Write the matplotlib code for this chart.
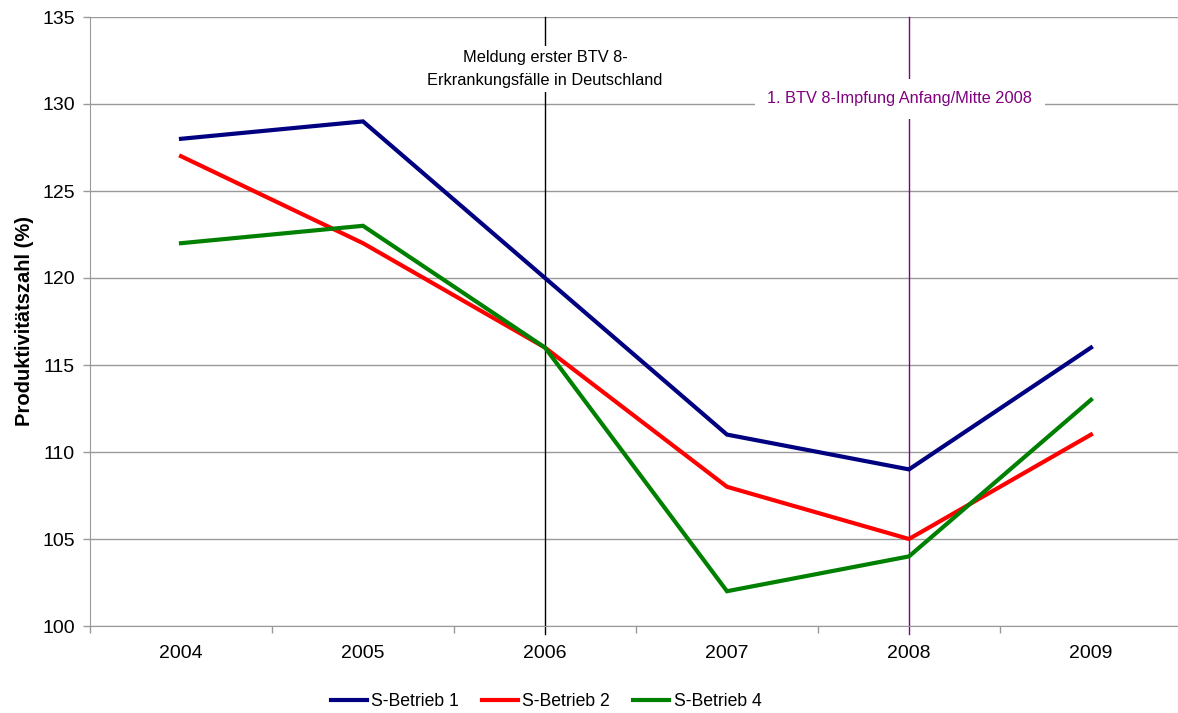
import matplotlib
matplotlib.use("Agg")
import matplotlib.pyplot as plt
from matplotlib.ticker import FixedLocator

plt.rcParams['font.family'] = ['Liberation Sans', 'DejaVu Sans']

years = ["2004", "2005", "2006", "2007", "2008", "2009"]
betrieb1 = [128, 129, 120, 111, 109, 116]
betrieb2 = [127, 122, 116, 108, 105, 111]
betrieb4 = [122, 123, 116, 102, 104, 113]
series_names = ["S-Betrieb 1", "S-Betrieb 2", "S-Betrieb 4"]
colors = ["#000080", "#FF0000", "#008000"]
yticks = [100, 105, 110, 115, 120, 125, 130, 135]

W, H = 1178, 713
fig = plt.figure(figsize=(W / 100, H / 100), dpi=100)
ax = fig.add_axes([90 / W, (H - 626) / H, 1092 / W, (626 - 17) / H])

x = list(range(len(years)))
lines = []
for vals, c, n in zip([betrieb1, betrieb2, betrieb4], colors, series_names):
    l, = ax.plot(x, vals, color=c, lw=3, label=n, zorder=3, solid_joinstyle='miter')
    lines.append(l)

ax.set_xlim(-0.5, len(years) - 0.5)
ax.set_ylim(100, 135)
ax.set_yticks(yticks)
ax.set_yticklabels([str(v) for v in yticks], fontsize=14)
ax.set_xticks(x)
ax.set_xticklabels(years, fontsize=14)
ax.xaxis.set_minor_locator(FixedLocator([i - 0.5 for i in range(len(years) + 1)]))
ax.tick_params(axis='x', which='major', length=0, pad=14)
ax.tick_params(axis='x', which='minor', length=5, color='#999999', width=1)
ax.tick_params(axis='y', length=5, color='#999999', width=1, pad=6)

ax.grid(axis='y', color='#999999', lw=1, zorder=0)
for s in ['top', 'right']:
    ax.spines[s].set_visible(False)
for s in ['left', 'bottom']:
    ax.spines[s].set_color('#999999')

ax.set_ylabel("Produktivitätszahl (%)", fontsize=14.5, fontweight='bold', labelpad=6)

# vertical event lines
ax.plot([2, 2], [-0.013, 1], transform=ax.get_xaxis_transform(), color='black', lw=1, clip_on=False, zorder=2)
ax.plot([4, 4], [-0.013, 1], transform=ax.get_xaxis_transform(), color='#800080', lw=1, clip_on=False, zorder=2)

ax.text(2.0, 132.0, "Meldung erster BTV 8-\nErkrankungsfälle in Deutschland", ha='center', va='center',
        fontsize=11.8, linespacing=1.7, zorder=4,
        bbox=dict(facecolor='white', edgecolor='none', pad=3))
ax.text(3.95, 130.3, "1. BTV 8-Impfung Anfang/Mitte 2008", ha='center', va='center',
        fontsize=11.8, color='#800080', zorder=4,
        bbox=dict(facecolor='white', edgecolor='none', boxstyle='square,pad=0.75'))

fig.legend(handles=lines, labels=series_names, loc='center', bbox_to_anchor=(546 / W, (H - 702) / H),
           ncol=3, frameon=False, fontsize=12.7, handlelength=2.05, handletextpad=0.25, columnspacing=1.3)

fig.savefig("out.png", dpi=100)
